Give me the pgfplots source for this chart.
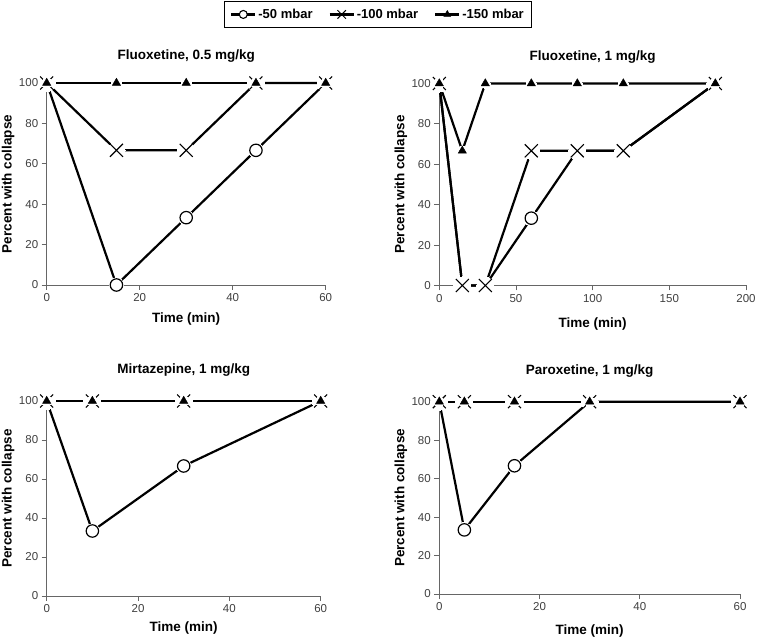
\documentclass[border=0pt]{standalone}
\usepackage{fontspec}
\setmainfont{Liberation Sans}
\usepackage{pgfplots}
\usepackage{pgfplotstable}
\pgfplotsset{compat=1.18}

% Fluoxetine 0.5 mg/kg
\pgfplotstableread{
t a b c
0 100 100 100
15 0 66.67 100
30 33.33 66.67 100
45 66.67 100 100
60 100 100 100
}\tabTL
% Fluoxetine 1 mg/kg
\pgfplotstableread{
t a b c
0 100 100 100
15 0 0 66.67
30 0 0 100
60 33.33 66.67 100
90 66.67 66.67 100
120 66.67 66.67 100
180 100 100 100
}\tabTR
% Mirtazepine 1 mg/kg
\pgfplotstableread{
t a b c
0 100 100 100
10 33.33 100 100
30 66.67 100 100
60 100 100 100
}\tabBL
% Paroxetine 1 mg/kg
\pgfplotstableread{
t a b c
0 100 100 100
5 33.33 100 100
15 66.67 100 100
30 100 100 100
60 100 100 100
}\tabBR

\pgfplotsset{
  panel/.style={
    scale only axis, clip=false, anchor=south west,
    axis lines=left,
    axis line style={-, black!60, line width=0.8pt},
    ymin=0, ymax=100, ytick={0,20,40,60,80,100},
    tick align=outside, major tick length=5pt,
    tick style={black!60, line width=0.8pt},
    tick label style={font=\fontsize{11.5}{12}\selectfont, text=black!75},
    /pgf/number format/assume math mode=true,
    title style={font=\bfseries\fontsize{13.5}{14}\selectfont, at={(axis description cs:0.5,1)}, anchor=base, inner sep=0pt},
    xlabel style={font=\bfseries\fontsize{13.5}{14}\selectfont, at={(axis description cs:0.5,0)}, anchor=base, inner sep=0pt},
    ylabel style={font=\bfseries\fontsize{13.5}{14}\selectfont, at={(axis description cs:0,0.5)}, anchor=south, inner sep=0pt, yshift=32pt},
    xlabel={Time (min)}, ylabel={Percent with collapse},
    legend image code/.code={\draw[mark repeat=2,mark phase=2,#1] plot coordinates {(0pt,0pt)(12pt,0pt)(24pt,0pt)};},
  },
  ln/.style={black, line width=2.2pt, mark=none, forget plot},
  halo/.style={only marks, mark=*, mark options={draw=white, fill=white, line width=0pt}, forget plot},
  mA/.style={only marks, mark=*, mark size=6.2pt, mark options={fill=white, draw=black, line width=1.2pt}, forget plot},
  mB/.style={only marks, mark=x, mark size=9.2pt, mark options={draw=black, line width=1.1pt}, forget plot},
  mC/.style={only marks, mark=triangle*, mark size=4.8pt, mark options={fill=black, draw=black, line width=0.4pt}, forget plot},
}

\newcommand{\drawpanel}[1]{%
  \addplot[ln] table[x=t,y=a]{#1};
  \addplot[ln] table[x=t,y=b]{#1};
  \addplot[ln] table[x=t,y=c]{#1};
  \addplot[halo, mark size=7.4pt] table[x=t,y=a]{#1};
  \addplot[mA] table[x=t,y=a]{#1};
  \addplot[halo, mark size=8.6pt] table[x=t,y=b]{#1};
  \addplot[mB] table[x=t,y=b]{#1};
  \addplot[halo, mark size=5pt] table[x=t,y=c]{#1};
  \addplot[mC] table[x=t,y=c]{#1};
}

\begin{document}
\begin{tikzpicture}
\useasboundingbox (0,0) rectangle (757pt,637pt);

% Top left
\begin{axis}[panel, at={(46.7pt,352pt)}, width=279pt, height=202pt,
  xmin=0, xmax=60, xtick={0,20,40,60},
  title={Fluoxetine, 0.5 mg/kg}, title style={yshift=17pt},
  xlabel style={yshift=-37.5pt},
  legend style={at={(axis description cs:1.1875,1.406)}, anchor=north,
    legend columns=3, draw=black, line width=1pt,
    font=\bfseries\fontsize{13}{14}\selectfont,
    /tikz/every even column/.append style={column sep=14pt},
    inner xsep=6pt, inner ysep=5.5pt}]
\drawpanel{\tabTL}
\addlegendimage{black, line width=2.2pt, mark=*, mark size=4pt, mark options={fill=white, line width=1.1pt}}
\addlegendentry{-50 mbar}
\addlegendimage{black, line width=2.2pt, mark=x, mark size=6pt, mark options={line width=1pt}}
\addlegendentry{-100 mbar}
\addlegendimage{black, line width=2.2pt, mark=triangle*, mark size=4pt, mark options={line width=0.4pt}}
\addlegendentry{-150 mbar}
\end{axis}

% Top right
\begin{axis}[panel, at={(439.3pt,351.5pt)}, width=306.7pt, height=202pt,
  xmin=0, xmax=200, xtick={0,50,100,150,200},
  title={Fluoxetine, 1 mg/kg}, title style={yshift=16.5pt},
  xlabel style={yshift=-42pt}]
\drawpanel{\tabTR}
\end{axis}

% Bottom left
\begin{axis}[panel, at={(46.7pt,41pt)}, width=274pt, height=195pt,
  xmin=0, xmax=60, xtick={0,20,40,60},
  title={Mirtazepine, 1 mg/kg}, title style={yshift=21pt},
  xlabel style={yshift=-35.5pt}]
\drawpanel{\tabBL}
\end{axis}

% Bottom right
\begin{axis}[panel, at={(439.3pt,43pt)}, width=300.7pt, height=192.3pt,
  xmin=0, xmax=60, xtick={0,20,40,60},
  title={Paroxetine, 1 mg/kg}, title style={yshift=21.5pt},
  xlabel style={yshift=-40pt}]
\drawpanel{\tabBR}
\end{axis}
\end{tikzpicture}
\end{document}
